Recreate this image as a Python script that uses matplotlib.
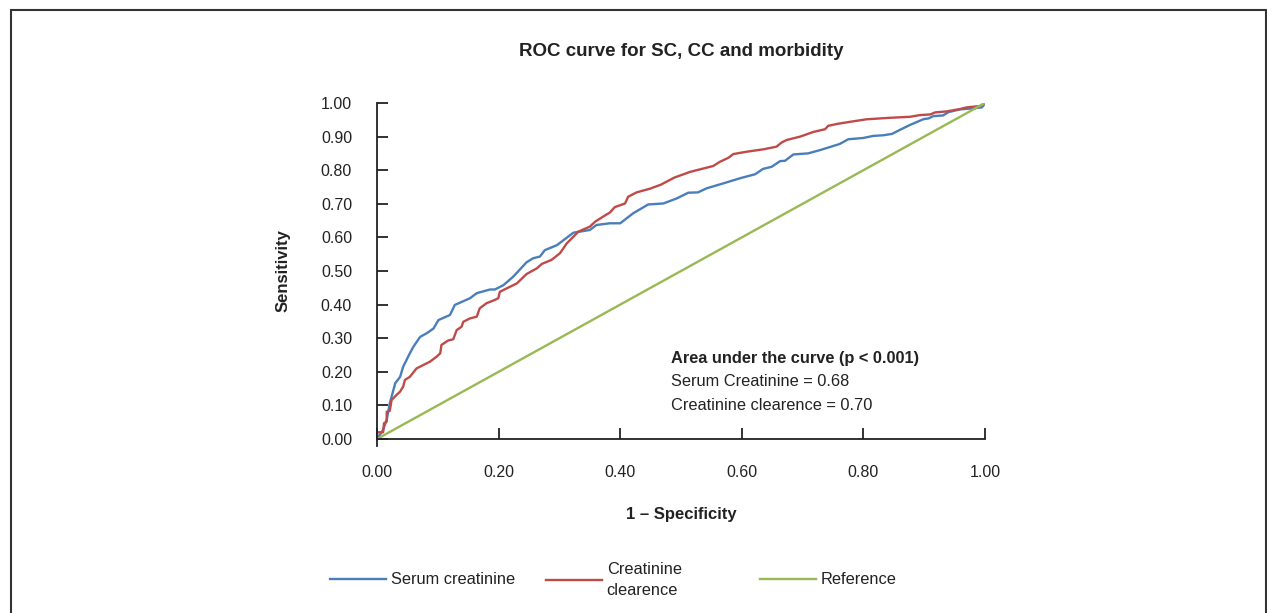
import numpy as np
import matplotlib
matplotlib.use("Agg")
import matplotlib.pyplot as plt
from matplotlib.patches import Rectangle

plt.rcParams['font.family'] = ['Liberation Sans', 'DejaVu Sans']

# ROC points (1 - specificity, sensitivity)
sc_x = [0.0, 0.010, 0.016, 0.021, 0.030, 0.038, 0.043, 0.054, 0.060, 0.071, 0.082, 0.093,
        0.101, 0.120, 0.128, 0.153, 0.164, 0.186, 0.194, 0.208, 0.224, 0.246, 0.257, 0.268,
        0.276, 0.296, 0.323, 0.350, 0.361, 0.383, 0.400, 0.4215, 0.446, 0.471, 0.493, 0.512,
        0.528, 0.542, 0.570, 0.597, 0.622, 0.635, 0.649, 0.663, 0.671, 0.685, 0.709, 0.729,
        0.761, 0.775, 0.800, 0.816, 0.833, 0.847, 0.860, 0.877, 0.899, 0.907, 0.915, 0.931,
        0.940, 0.959, 0.981, 0.995, 0.998, 1.0]
sc_y = [0.0, 0.027, 0.057, 0.106, 0.166, 0.185, 0.215, 0.255, 0.275, 0.304, 0.315, 0.329,
        0.354, 0.369, 0.399, 0.419, 0.434, 0.445, 0.445, 0.458, 0.483, 0.526, 0.538, 0.543,
        0.562, 0.577, 0.614, 0.622, 0.637, 0.642, 0.642, 0.672, 0.698, 0.701, 0.716, 0.733,
        0.734, 0.746, 0.761, 0.776, 0.788, 0.804, 0.810, 0.827, 0.828, 0.847, 0.850, 0.860,
        0.878, 0.892, 0.896, 0.902, 0.904, 0.908, 0.920, 0.935, 0.952, 0.954, 0.961, 0.963,
        0.973, 0.981, 0.984, 0.987, 0.994, 1.0]

cc_x = [0.0, 0.0, 0.010, 0.0115, 0.016, 0.016, 0.021, 0.024, 0.032, 0.038, 0.043, 0.046,
        0.054, 0.065, 0.076, 0.087, 0.098, 0.104, 0.106, 0.117, 0.1255, 0.131, 0.139, 0.142,
        0.153, 0.164, 0.169, 0.180, 0.194, 0.1995, 0.202, 0.213, 0.230, 0.246, 0.263, 0.271,
        0.287, 0.301, 0.312, 0.323, 0.331, 0.350, 0.359, 0.372, 0.383, 0.391, 0.408, 0.413,
        0.427, 0.449, 0.467, 0.489, 0.515, 0.553, 0.564, 0.578, 0.586, 0.608, 0.635, 0.657,
        0.666, 0.674, 0.696, 0.718, 0.737, 0.742, 0.756, 0.778, 0.805, 0.844, 0.877, 0.893,
        0.910, 0.918, 0.937, 0.959, 0.970, 0.992, 1.0]
cc_y = [0.0, 0.020, 0.020, 0.047, 0.052, 0.081, 0.084, 0.116, 0.131, 0.141, 0.156, 0.176,
        0.185, 0.210, 0.220, 0.230, 0.245, 0.255, 0.280, 0.293, 0.297, 0.324, 0.334, 0.349,
        0.359, 0.364, 0.389, 0.404, 0.414, 0.419, 0.438, 0.448, 0.463, 0.491, 0.508, 0.521,
        0.533, 0.553, 0.582, 0.602, 0.617, 0.632, 0.647, 0.662, 0.674, 0.690, 0.701, 0.721,
        0.734, 0.745, 0.757, 0.778, 0.795, 0.8125, 0.825, 0.837, 0.848, 0.855, 0.862, 0.870,
        0.883, 0.890, 0.900, 0.914, 0.922, 0.932, 0.9375, 0.944, 0.9515, 0.956, 0.959, 0.964,
        0.966, 0.972, 0.975, 0.982, 0.987, 0.991, 1.0]

ref_x = [0.0, 1.0]
ref_y = [0.0, 1.0]

ticks = [0.0, 0.2, 0.4, 0.6, 0.8, 1.0]
yticks = [i / 10 for i in range(11)]

blue = '#4a7ebb'
red = '#be4b48'
green = '#98b954'
txt = '#222222'

fig = plt.figure(figsize=(12.67, 6.13), dpi=100)
ax = fig.add_axes([377 / 1267, 1 - 439 / 613, 608 / 1267, 336 / 613])

l1, = ax.plot(sc_x, sc_y, color=blue, lw=1.7, label='Serum creatinine')
l2, = ax.plot(cc_x, cc_y, color=red, lw=1.7, label='Creatinine\nclearence')
l3, = ax.plot(ref_x, ref_y, color=green, lw=1.7, label='Reference')

ax.set_xlim(0, 1)
ax.set_ylim(0, 1)
ax.set_xticks(ticks)
ax.set_xticklabels(['%.2f' % t for t in ticks])
ax.set_yticks(yticks)
ax.set_yticklabels(['%.2f' % t for t in yticks])
for s in ['top', 'right']:
    ax.spines[s].set_visible(False)
for s in ['left', 'bottom']:
    ax.spines[s].set_color('#222222')
    ax.spines[s].set_linewidth(1.3)
ax.spines['left'].set_bounds(-0.022, 1.0)
ax.tick_params(direction='in', length=8, width=1.3, color='#222222',
               labelsize=11.5, labelcolor=txt)
ax.tick_params(axis='x', pad=19)
ax.tick_params(axis='y', pad=18)

fig.text(681 / 1267, 1 - 51 / 613, 'ROC curve for SC, CC and morbidity', ha='center',
         va='center', fontsize=13.5, fontweight='bold', color=txt)
fig.text(681 / 1267, 1 - 515 / 613, '1 – Specificity', ha='center', va='center',
         fontsize=12, fontweight='bold', color=txt)
fig.text(283 / 1267, 1 - 271 / 613, 'Sensitivity', ha='center', va='center',
         rotation=90, fontsize=12, fontweight='bold', color=txt)

fig.text(671 / 1267, 1 - 358 / 613, 'Area under the curve (p < 0.001)', ha='left',
         va='center', fontsize=11.8, fontweight='bold', color=txt)
fig.text(671 / 1267, 1 - 382 / 613, 'Serum Creatinine = 0.68', ha='left',
         va='center', fontsize=11.8, color=txt)
fig.text(671 / 1267, 1 - 406 / 613, 'Creatinine clearence = 0.70', ha='left',
         va='center', fontsize=11.8, color=txt)

# legend entries placed one by one
for h, x0 in [(l1, 330), (l2, 546), (l3, 760)]:
    lg = fig.legend(handles=[h], loc='center left',
                    bbox_to_anchor=(x0 / 1267, 1 - 580 / 613), frameon=False,
                    borderpad=0, borderaxespad=0, handlelength=3.4,
                    handletextpad=0.3, fontsize=11.8, labelcolor=txt)
    for t in lg.get_texts():
        t.set_linespacing(1.55)

# outer frame
fig.patches.append(Rectangle((11 / 1267, -0.05), (1266 - 11) / 1267, 1.05 - 9.5 / 613,
                             transform=fig.transFigure, fill=False,
                             edgecolor='#333333', lw=1.5))

fig.savefig('out.png', dpi=100)
